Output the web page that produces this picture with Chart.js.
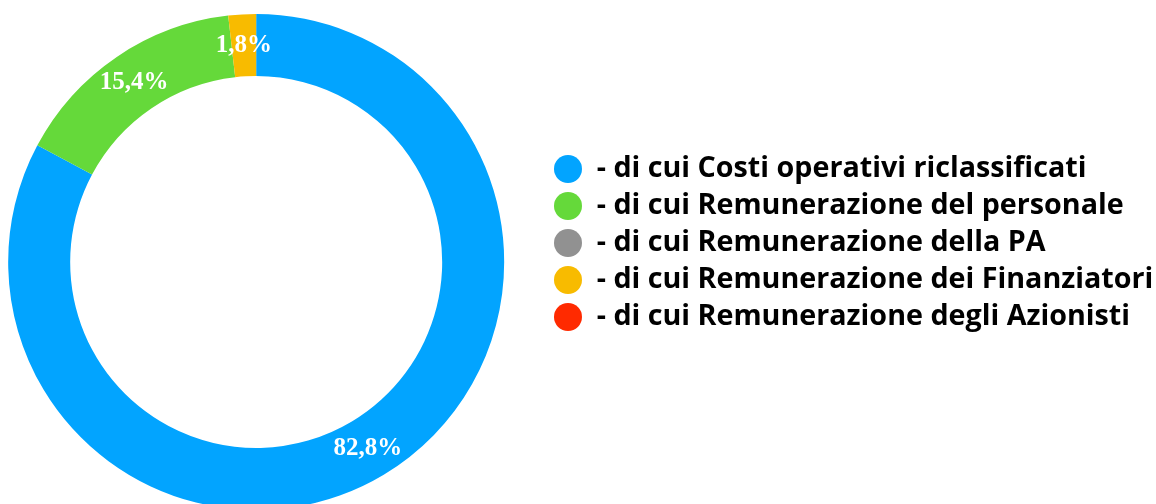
<!DOCTYPE html>
<html>
<head>
<meta charset="utf-8">
<script src="https://cdn.jsdelivr.net/npm/chart.js@4.4.1/dist/chart.umd.min.js"></script>
<style>
	html, body { margin: 0; padding: 0; background: #fff; overflow: hidden; width: 1156px; height: 504px; }
	/* the ring is cut at the left and bottom in the original, so the canvas overhangs the window */
	#wrap { position: absolute; left: -33px; top: -24px; width: 1289px; height: 534px; }
</style>
</head>
<body>
<div id="wrap"><canvas id="myChart"></canvas></div>
<script>
const categories = [
	'- di cui Costi operativi riclassificati',
	'- di cui Remunerazione del personale',
	'- di cui Remunerazione della PA',
	'- di cui Remunerazione dei Finanziatori',
	'- di cui Remunerazione degli Azionisti'
];
const shares = [82.8, 15.4, 0, 1.8, 0];
const sliceColours = ['#02A4FF', '#65D93A', '#919191', '#F8BB00', '#FF2A00'];

document.addEventListener('DOMContentLoaded', function () {
	const fontSize = 28.7;
	const legendPad = 8.3;
	const legendFont = { family: 'Open Sans', size: fontSize, weight: 'bold' };

	// legend width, so that the legend starts where the ring area ends
	const probe = document.createElement('canvas').getContext('2d');
	probe.font = 'bold ' + fontSize + 'px "Open Sans"';
	let widest = 0;
	categories.forEach(function (t) {
		widest = Math.max(widest, probe.measureText(t).width);
	});
	const legendWidth = legendPad + fontSize + fontSize / 2 + widest + 10;
	const legendLeft = 578.35;

	const sliceLabels = {
		id: 'sliceLabels',
		afterDatasetsDraw(chart) {
			const ctx = chart.ctx;
			const meta = chart.getDatasetMeta(0);
			ctx.save();
			ctx.fillStyle = '#ffffff';
			ctx.font = 'bold 25px "Liberation Serif"';
			ctx.textAlign = 'center';
			ctx.textBaseline = 'middle';
			meta.data.forEach(function (arc, i) {
				if (!shares[i]) return;
				const p = arc.getCenterPoint();
				ctx.fillText(shares[i].toFixed(1).replace('.', ',') + '%', p.x, p.y);
			});
			ctx.restore();
		}
	};

	const chart1 = document.getElementById('myChart').getContext('2d');

	new Chart(chart1, {
		type: 'doughnut',
		data: {
			labels: categories,
			datasets: [
				{
					data: shares,
					backgroundColor: sliceColours,
					borderWidth: 0,
					hoverOffset: 0
				}
			]
		},
		options: {
			responsive: true,
			maintainAspectRatio: false,
			animation: false,
			cutout: '75%',
			layout: {
				padding: {
					left: 0,
					right: 1289 - legendLeft - legendWidth,
					top: 0,
					bottom: 0
				}
			},
			plugins: {
				title: {
					display: true,
					text: '',
					fullSize: false,
					font: { size: 10 },
					padding: { top: 0, bottom: 26 }
				},
				legend: {
					position: 'right',
					maxWidth: 1200,
					labels: {
						usePointStyle: true,
						pointStyle: 'circle',
						boxWidth: fontSize,
						boxHeight: 19.8,
						padding: legendPad,
						color: '#000000',
						font: legendFont
					}
				},
				tooltip: { enabled: false }
			}
		},
		plugins: [sliceLabels]
	});
});
</script>
</body>
</html>
